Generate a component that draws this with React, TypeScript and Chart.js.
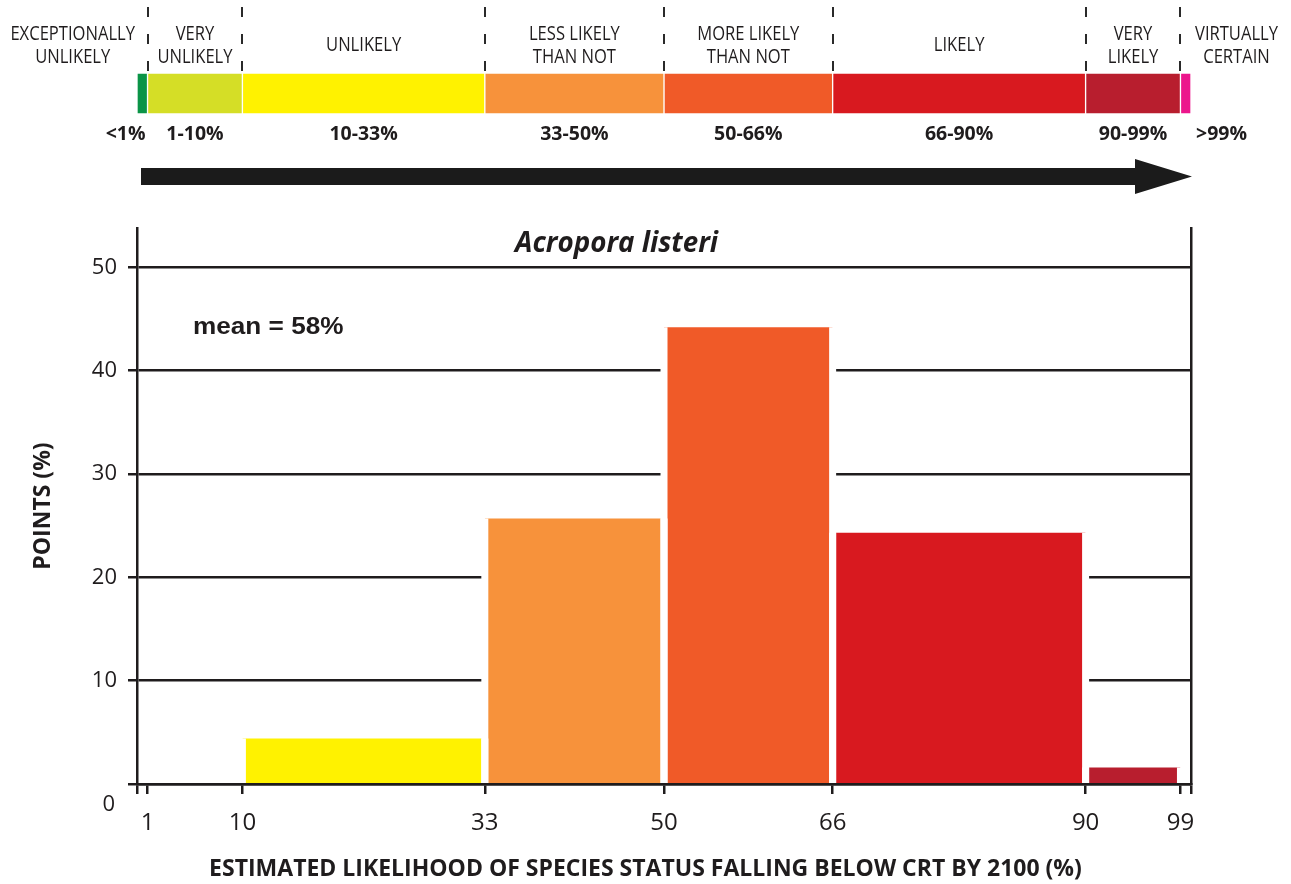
import React, { useEffect, useRef } from 'react';
import { Chart, registerables } from 'chart.js';

Chart.register(...registerables);

// ---------- data ----------
const BAND_EDGES = [0, 1, 10, 33, 50, 66, 90, 99, 100];
const BAND_NAMES = [
  ['EXCEPTIONALLY', 'UNLIKELY'],
  ['VERY', 'UNLIKELY'],
  ['UNLIKELY'],
  ['LESS LIKELY', 'THAN NOT'],
  ['MORE LIKELY', 'THAN NOT'],
  ['LIKELY'],
  ['VERY', 'LIKELY'],
  ['VIRTUALLY', 'CERTAIN'],
];
const BAND_RANGES = ['<1%', '1-10%', '10-33%', '33-50%', '50-66%', '66-90%', '90-99%', '>99%'];
const BAND_COLORS = ['#0b9447', '#d5de26', '#fff200', '#f7923b', '#f05a28', '#d8191f', '#b81e2e', '#ec168c'];

const BIN_EDGES = [10, 33, 50, 66, 90, 99];
const BIN_VALUES = [4.4, 25.7, 44.2, 24.3, 1.6];
const BIN_COLORS = ['#fff200', '#f7923b', '#f05a28', '#d8191f', '#b81e2e'];

const X_TICKS = [1, 10, 33, 50, 66, 90, 99];
const Y_TICKS = [0, 10, 20, 30, 40, 50];
const X_MIN = 0;
const X_MAX = 100;
const Y_MAX = 53.8;

const SPECIES = 'Acropora listeri';
const MEAN_LABEL = 'mean = 58%';
const X_TITLE = 'ESTIMATED LIKELIHOOD OF SPECIES STATUS FALLING BELOW CRT BY 2100 (%)';
const Y_TITLE = 'POINTS (%)';

// ---------- styles ----------
const INK = '#1f1c1d';
const W = 1291;
const TOP_H = 210;
const BOT_H = 884 - TOP_H;

function drawText(
  ctx: CanvasRenderingContext2D,
  text: string,
  x: number,
  y: number,
  font: string,
  align: CanvasTextAlign = 'center',
  sx = 1,
  color = INK
) {
  ctx.save();
  ctx.font = font;
  ctx.fillStyle = color;
  ctx.textBaseline = 'middle';
  ctx.textAlign = align;
  ctx.translate(x, y);
  ctx.scale(sx, 1);
  ctx.fillText(text, 0, 0);
  ctx.restore();
}

function textWidth(ctx: CanvasRenderingContext2D, text: string, font: string, sx = 1) {
  ctx.save();
  ctx.font = font;
  const w = ctx.measureText(text).width * sx;
  ctx.restore();
  return w;
}

const NAME_FONT = '400 19.5px "Open Sans"';
const NAME_SX = 0.85;
const RANGE_FONT = '700 19.5px "Open Sans"';

const topPlugin = {
  id: 'likelihoodScale',
  afterDraw(chart: any) {
    const ctx: CanvasRenderingContext2D = chart.ctx;
    const xs = chart.scales.x;
    const area = chart.chartArea;
    const px = (v: number) => xs.getPixelForValue(v);
    const n = BAND_NAMES.length;

    // dashed separators
    ctx.save();
    ctx.strokeStyle = '#2a2a2a';
    ctx.lineWidth = 2;
    ctx.setLineDash([10, 17]);
    BAND_EDGES.slice(1, -1).forEach((v) => {
      const p = Math.round(px(v));
      ctx.beginPath();
      ctx.moveTo(p, 7);
      ctx.lineTo(p, area.top);
      ctx.stroke();
    });
    ctx.restore();

    // category names
    BAND_NAMES.forEach((lines, i) => {
      const bw = Math.max(...lines.map((l) => textWidth(ctx, l, NAME_FONT, NAME_SX)));
      let cx = (px(BAND_EDGES[i]) + px(BAND_EDGES[i + 1])) / 2;
      if (i === 0) cx = px(BAND_EDGES[0]) - 2 - bw / 2;
      if (i === n - 1) cx = px(BAND_EDGES[n]) + 4 + bw / 2;
      const ys = lines.length === 2 ? [34, 57] : [45];
      lines.forEach((l, k) => drawText(ctx, l, cx, ys[k], NAME_FONT, 'center', NAME_SX));
    });

    // range labels
    BAND_RANGES.forEach((t, i) => {
      const y = 134;
      if (i === 0) drawText(ctx, t, px(BAND_EDGES[1]) - 2, y, RANGE_FONT, 'right');
      else if (i === n - 1) drawText(ctx, t, px(BAND_EDGES[n]) + 5, y, RANGE_FONT, 'left');
      else drawText(ctx, t, (px(BAND_EDGES[i]) + px(BAND_EDGES[i + 1])) / 2, y, RANGE_FONT, 'center');
    });

    // arrow
    const x0 = px(X_MIN) + 4;
    const x1 = px(X_MAX) + 1;
    const head = 57;
    ctx.save();
    ctx.fillStyle = '#1b1b1b';
    ctx.beginPath();
    ctx.moveTo(x0, 168);
    ctx.lineTo(x1 - head, 168);
    ctx.lineTo(x1 - head, 159);
    ctx.lineTo(x1, 176.5);
    ctx.lineTo(x1 - head, 194);
    ctx.lineTo(x1 - head, 185);
    ctx.lineTo(x0, 185);
    ctx.closePath();
    ctx.fill();
    ctx.restore();
  },
};

const TICK_FONT = '400 22px "Open Sans"';

const bottomPlugin = {
  id: 'histAnnotations',
  afterDraw(chart: any) {
    const ctx: CanvasRenderingContext2D = chart.ctx;
    const area = chart.chartArea;
    const ys = chart.scales.y;
    // zero label, set lower than its tick as in the original
    drawText(ctx, '0', ys.right - 9 - 13, ys.getPixelForValue(0) + 21, TICK_FONT, 'right');
    // species title
    const spFont = 'italic 700 28px "Open Sans"';
    drawText(ctx, SPECIES, area.left + (area.right - area.left) * 0.455, area.top + 16, spFont, 'center', 0.99);
    // mean
    drawText(ctx, MEAN_LABEL, area.left + 56, area.top + 99, '700 24px "Liberation Sans", Arial, sans-serif', 'left', 1.09);
    // x title
    drawText(ctx, X_TITLE, chart.width / 2, 659, '700 23px "Open Sans"', 'center');
  },
};

const zeroPad = (s: any) => {
  s.paddingTop = 0;
  s.paddingBottom = 0;
  s.paddingLeft = 0;
  s.paddingRight = 0;
};

export default function App() {
  const topRef = useRef<HTMLCanvasElement | null>(null);
  const botRef = useRef<HTMLCanvasElement | null>(null);

  useEffect(() => {
    const topChart = new Chart(topRef.current as HTMLCanvasElement, {
      type: 'bar',
      data: {
        labels: ['band'],
        datasets: BAND_COLORS.map((c, i) => ({
          data: [[BAND_EDGES[i], BAND_EDGES[i + 1]]] as any,
          backgroundColor: c,
          borderColor: '#ffffff',
          borderWidth: 1,
          borderSkipped: false,
          barPercentage: 1,
          categoryPercentage: 1,
          grouped: false,
        })),
      },
      options: {
        indexAxis: 'y',
        responsive: false,
        animation: false,
        events: [],
        layout: { padding: { left: 137, right: 100, top: 73, bottom: 96 } },
        scales: {
          x: { type: 'linear', min: X_MIN, max: X_MAX, display: false },
          y: { display: false },
        },
        plugins: { legend: { display: false }, tooltip: { enabled: false } },
      } as any,
      plugins: [topPlugin],
    });

    const botChart = new Chart(botRef.current as HTMLCanvasElement, {
      type: 'line',
      data: {
        datasets: BIN_VALUES.map((v, i) => ({
          data: [
            { x: BIN_EDGES[i], y: 0 },
            { x: BIN_EDGES[i], y: v },
            { x: BIN_EDGES[i + 1], y: v },
            { x: BIN_EDGES[i + 1], y: 0 },
          ],
          backgroundColor: BIN_COLORS[i],
          fill: 'origin',
          borderColor: '#ffffff',
          borderWidth: 7,
          pointRadius: 0,
          tension: 0,
          segment: {
            borderColor: (c: any) => (c.p0.parsed.y === c.p1.parsed.y ? 'rgba(255,255,255,0)' : '#ffffff'),
          },
        })) as any,
      },
      options: {
        responsive: false,
        animation: false,
        events: [],
        layout: { padding: { top: 18, left: 0, right: 0, bottom: 0 } },
        scales: {
          x: {
            type: 'linear',
            min: X_MIN,
            max: X_MAX,
            afterBuildTicks: (s: any) => {
              s.ticks = [X_MIN, ...X_TICKS, X_MAX].map((v) => ({ value: v }));
            },
            afterFit: (s: any) => {
              s.height = 100;
              zeroPad(s);
            },
            grid: { drawOnChartArea: false, drawTicks: true, tickLength: 10, color: INK, lineWidth: 2.5, z: 1 },
            border: { display: true, color: INK, width: 2.5, z: 1 },
            ticks: {
              autoSkip: false,
              maxRotation: 0,
              padding: 15,
              color: INK,
              font: { family: 'Open Sans', size: 24 },
              callback: (v: any) => (X_TICKS.includes(v) ? String(v) : ''),
            },
          },
          y: {
            type: 'linear',
            position: 'left',
            min: 0,
            max: Y_MAX,
            afterBuildTicks: (s: any) => {
              s.ticks = Y_TICKS.map((v) => ({ value: v }));
            },
            afterFit: (s: any) => {
              s.width = 137;
              zeroPad(s);
            },
            grid: { color: INK, lineWidth: 2.5, tickLength: 9, drawTicks: true },
            border: { display: true, color: INK, width: 2.5 },
            ticks: {
              padding: 11,
              color: INK,
              font: { family: 'Open Sans', size: 22 },
              callback: (v: any) => (v === 0 ? '' : String(v)),
            },
            title: {
              display: true,
              text: Y_TITLE,
              color: INK,
              font: { family: 'Open Sans', size: 23, weight: 'bold' },
              padding: { top: 30, bottom: 0 },
            },
          },
          y2: {
            type: 'linear',
            position: 'right',
            min: 0,
            max: Y_MAX,
            grid: { display: false },
            ticks: { display: false },
            border: { display: true, color: INK, width: 2.5 },
            afterFit: (s: any) => {
              s.width = 100;
              zeroPad(s);
            },
          },
        },
        plugins: {
          legend: { display: false },
          tooltip: { enabled: false },
          filler: { drawTime: 'beforeDatasetsDraw' },
        },
      } as any,
      plugins: [bottomPlugin],
    });

    return () => {
      topChart.destroy();
      botChart.destroy();
    };
  }, []);

  return (
    <div style={{ position: 'absolute', left: 0, top: 0, width: W, height: 884, background: '#ffffff' }}>
      <canvas ref={topRef} width={W} height={TOP_H} style={{ position: 'absolute', left: 0, top: 0, display: 'block' }} />
      <canvas ref={botRef} width={W} height={BOT_H} style={{ position: 'absolute', left: 0, top: TOP_H, display: 'block' }} />
    </div>
  );
}
